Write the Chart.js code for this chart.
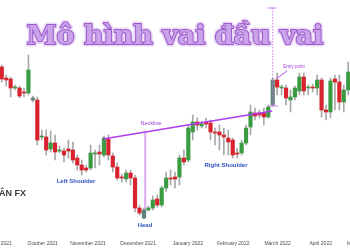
<!DOCTYPE html>
<html lang="vi">
<head>
<meta charset="UTF-8">
<title>Mô hình vai đầu vai</title>
<script src="https://cdn.jsdelivr.net/npm/chart.js"></script>
<style>
  html, body { margin: 0; padding: 0; background: #fff; }
  #wrap { width: 350px; height: 250px; }
</style>
</head>
<body>
<div id="wrap"><canvas id="hs"></canvas></div>
<script>
// candle prices (one candle per slot)
const openP  = [183,172,171,162,162,158,157,152,150,113,113,101,107,99,99,101,100,92,85,82,
                82,96,98,95,111,94,83,73,71,77,72,42,32,40,42,51,45,62,72,73,
                73,92,90,118,128,124,128,127,118,118,115,112,110,97,97,107,123,137,137,137,
                133,145,170,162,162,150,153,159,173,162,163,162,170,140,138,171,168,148,160];
const closeP = [171,170,162,163,154,157,180,150,110,114,100,107,98,100,95,99,90,85,80,80,
                97,97,96,112,95,83,72,72,77,72,42,37,40,42,50,45,62,72,71,71,
                92,88,122,128,125,126,126,118,117,115,113,108,95,96,107,122,138,134,135,133,
                143,170,163,163,152,153,162,173,159,163,162,170,140,138,169,168,148,160,178];
const highP  = [185,175,173,165,164,162,195,154,153,120,120,119,115,104,102,110,108,95,90,85,
                105,100,105,114,115,97,87,76,80,80,75,45,42,44,54,55,64,78,80,78,
                95,100,125,135,132,129,132,130,122,125,122,120,112,102,110,125,145,142,140,142,
                145,172,177,165,165,160,164,177,177,165,166,175,172,145,172,175,175,165,188];
const lowP   = [168,164,153,160,152,153,155,148,105,110,95,98,90,97,88,92,87,80,75,78,
                80,82,85,93,90,78,70,68,68,65,38,35,31,39,40,43,43,58,65,62,
                65,85,88,110,120,122,122,110,105,100,95,95,92,92,95,105,115,130,132,125,
                132,144,155,155,145,138,150,155,155,155,158,155,133,130,132,140,140,138,155];
const grayCandles = [7, 32, 61];

const monthLabels = ['September 2021', 'October 2021', 'November 2021', 'December 2021',
                     'January 2022', 'February 2022', 'March 2022', 'April 2022', 'May 2022'];
const monthSlot = [-1.9, 9.2, 19.4, 30.7, 41.9, 52.1, 62.1, 71.8, 80.2];

// pattern marks
const necklineSlot = [22.8, 60.9];
const necklineP = [111, 139];
const headSlot = 32.3, headLow = 33;
const targetSlot = 61, targetTop = 242, targetBottom = 144;

const RED = '#d8232f', GREEN = '#3b9b42', GRAY = '#5d8478';
const bodyColors = openP.map((o, i) => grayCandles.includes(i) ? GRAY : (closeP[i] >= o ? GREEN : RED));

const patternPlugin = {
    id: 'pattern',
    beforeDatasetsDraw(chart) {
        const {ctx, scales: {x, y}} = chart;
        const hx = x.getPixelForValue(headSlot);
        const t = (headSlot - necklineSlot[0]) / (necklineSlot[1] - necklineSlot[0]);
        const neckAtHead = necklineP[0] + t * (necklineP[1] - necklineP[0]);
        ctx.save();
        ctx.strokeStyle = '#dcaaee';
        ctx.lineWidth = 2;
        ctx.beginPath();
        ctx.moveTo(hx, y.getPixelForValue(neckAtHead));
        ctx.lineTo(hx, y.getPixelForValue(headLow));
        ctx.stroke();
        ctx.restore();
    },
    afterDatasetsDraw(chart) {
        const {ctx, scales: {x, y}} = chart;
        ctx.save();

        // target projection, dotted
        const tx = x.getPixelForValue(targetSlot);
        const ty1 = y.getPixelForValue(targetTop), ty2 = y.getPixelForValue(targetBottom);
        ctx.strokeStyle = '#c77be6';
        ctx.lineWidth = 1;
        ctx.setLineDash([1.5, 1.5]);
        ctx.beginPath();
        ctx.moveTo(tx, ty1); ctx.lineTo(tx, ty2);
        ctx.stroke();
        ctx.setLineDash([]);
        ctx.beginPath();
        ctx.moveTo(tx - 5, ty1); ctx.lineTo(tx + 4, ty1);
        ctx.moveTo(tx - 5, ty2); ctx.lineTo(tx + 5, ty2);
        ctx.stroke();

        // entry arrow
        ctx.strokeStyle = '#b04ae0';
        ctx.beginPath();
        ctx.moveTo(287, 71); ctx.lineTo(276, 79);
        ctx.stroke();

        ctx.textAlign = 'center';
        ctx.textBaseline = 'middle';
        ctx.fillStyle = '#a63fe0';
        ctx.font = '4.5px "Liberation Sans", Arial, sans-serif';
        ctx.fillText('Entry point', 294, 67);
        ctx.font = '5.5px "Liberation Sans", Arial, sans-serif';
        ctx.fillStyle = '#9a3dd0';
        ctx.fillText('Neckline', 151, 123);

        ctx.fillStyle = '#2d4fc2';
        ctx.font = 'bold 6px "Liberation Sans", Arial, sans-serif';
        ctx.fillText('Left Shoulder', 76, 181);
        ctx.fillText('Right Shoulder', 226, 165);
        ctx.fillText('Head', 145, 225);

        ctx.fillStyle = '#3a3a3a';
        ctx.textAlign = 'left';
        ctx.font = 'bold 9px "Liberation Sans", Arial, sans-serif';
        ctx.fillText('ÂN FX', -1, 194);

        // month labels under the candles
        ctx.textAlign = 'center';
        ctx.fillStyle = '#4a4a4a';
        ctx.font = '5px "Liberation Sans", Arial, sans-serif';
        monthLabels.forEach((m, i) => ctx.fillText(m, x.getPixelForValue(monthSlot[i]), 244));

        // title
        const title = 'Mô hình vai đầu vai';
        ctx.font = 'bold 27px "DejaVu Serif", serif';
        const size = 27 * 296 / ctx.measureText(title).width;
        ctx.font = 'bold ' + size.toFixed(1) + 'px "DejaVu Serif", serif';
        ctx.textBaseline = 'alphabetic';
        ctx.lineJoin = 'round';
        ctx.strokeStyle = '#ead9f7';
        ctx.lineWidth = 5;
        ctx.strokeText(title, 175, 44);
        ctx.strokeStyle = '#9c58cc';
        ctx.lineWidth = 2;
        ctx.strokeText(title, 175, 44);
        ctx.fillStyle = '#caa4ea';
        ctx.fillText(title, 175, 44);
        ctx.restore();
    }
};

new Chart(document.getElementById('hs'), {
    type: 'bar',
    data: {
        datasets: [
            {
                type: 'line',
                data: necklineSlot.map((s, i) => ({x: s, y: necklineP[i]})),
                borderColor: '#b03cf0',
                borderWidth: 1.6,
                pointRadius: 0,
                order: 0
            },
            {
                data: openP.map((o, i) => ({x: i, y: [o, closeP[i]]})),
                backgroundColor: bodyColors,
                barThickness: 3.5,
                grouped: false,
                order: 1
            },
            {
                data: lowP.map((l, i) => ({x: i, y: [l, highP[i]]})),
                backgroundColor: '#a8a8a8',
                barThickness: 1,
                grouped: false,
                order: 2
            }
        ]
    },
    options: {
        responsive: true,
        maintainAspectRatio: false,
        animation: false,
        layout: { padding: 0 },
        scales: {
            x: { type: 'linear', display: false, offset: false, min: -0.4, max: 78.4 },
            y: { display: false, min: 0, max: 250 }
        },
        plugins: {
            legend: { display: false },
            tooltip: { enabled: false }
        }
    },
    plugins: [patternPlugin]
});
</script>
</body>
</html>
